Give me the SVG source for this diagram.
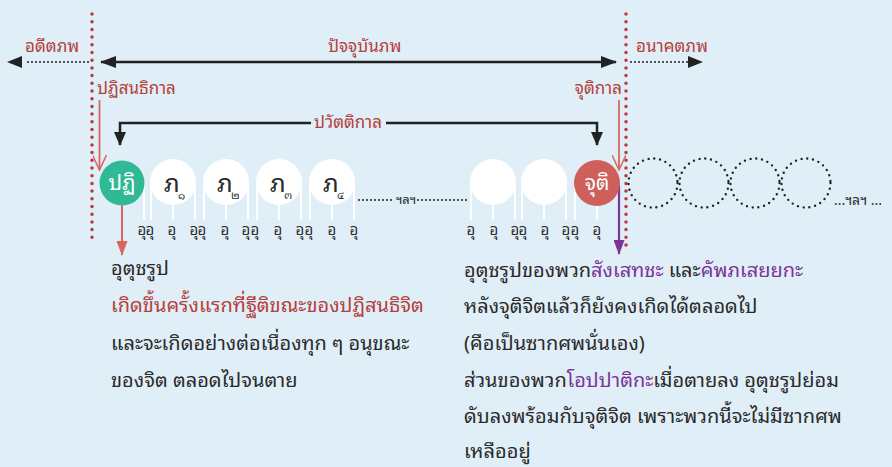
<svg xmlns="http://www.w3.org/2000/svg" width="892" height="467" viewBox="0 0 892 467">
<defs>
<style>
.lbl{font-family:"Noto Sans Thai Looped","Loma","Garuda","Noto Sans Thai","Noto Sans","DejaVu Sans",sans-serif;font-size:17px;fill:#b5413c}
.body{font-family:"Noto Sans Thai Looped","Loma","Garuda","Noto Sans Thai","Noto Sans","DejaVu Sans",sans-serif;font-size:20px;fill:#2b2b2b}
.red{fill:#b5413c}
.pur{fill:#7b3596}
.u{font-family:"Noto Sans Thai Looped","Loma","Garuda","Noto Sans Thai","Noto Sans","DejaVu Sans",sans-serif;font-size:15px;fill:#2b2b2b;text-anchor:middle}
.ctext{font-family:"Noto Sans Thai Looped","Loma","Garuda","Noto Sans Thai","Noto Sans","DejaVu Sans",sans-serif;font-size:21px;fill:#ffffff;text-anchor:middle}
.bha{font-family:"Noto Sans Thai Looped","Loma","Garuda","Noto Sans Thai","Noto Sans","DejaVu Sans",sans-serif;font-size:25px;fill:#2b2b2b}
.num{font-family:"Noto Sans Thai Looped","Loma","Garuda","Noto Sans Thai","Noto Sans","DejaVu Sans",sans-serif;font-size:11px;fill:#2b2b2b}
.vdot{stroke:#b83a3a;stroke-width:3.5;stroke-linecap:round;stroke-dasharray:0 7.7;fill:none}
.bdot{stroke:#222;stroke-width:2;stroke-linecap:round;stroke-dasharray:0 4;fill:none}
.solid{stroke:#222;stroke-width:2.5;fill:none}
.wl{stroke:#ffffff;stroke-width:2}
.dc{fill:none;stroke:#222;stroke-width:2.4;stroke-linecap:round;stroke-dasharray:0 5.8}
.wc{fill:#ffffff}
</style>
<marker id="ah" viewBox="0 0 16 12" refX="15" refY="6" markerWidth="16" markerHeight="12" markerUnits="userSpaceOnUse" orient="auto-start-reverse"><path d="M0,0 L16,6 L0,12 Z" fill="#222"/></marker>
<marker id="ahs" viewBox="0 0 14 12" refX="13" refY="6" markerWidth="14" markerHeight="12" markerUnits="userSpaceOnUse" orient="auto"><path d="M0,0 L14,6 L0,12 Z" fill="#222"/></marker>
<marker id="ahr" viewBox="0 0 15 11" refX="14" refY="5.5" markerWidth="15" markerHeight="11" markerUnits="userSpaceOnUse" orient="auto"><path d="M0,0 L15,5.5 L0,11 Z" fill="#d9665e"/></marker>
<marker id="ahp" viewBox="0 0 15 11" refX="14" refY="5.5" markerWidth="15" markerHeight="11" markerUnits="userSpaceOnUse" orient="auto"><path d="M0,0 L15,5.5 L0,11 Z" fill="#7b3596"/></marker>
<marker id="ahv" viewBox="0 0 16 14" refX="15" refY="7" markerWidth="16" markerHeight="14" markerUnits="userSpaceOnUse" orient="auto"><path d="M0,0 L15,7 L0,14" fill="none" stroke="#d9665e" stroke-width="1.5"/></marker>
</defs>
<rect x="0" y="0" width="892" height="467" fill="#e0eef8"/>

<g id="connectors">
<line class="vdot" x1="92" y1="14" x2="92" y2="240"/>
<line class="vdot" x1="626" y1="14" x2="626" y2="250"/>
<line class="solid" x1="101" y1="62" x2="616" y2="62" marker-start="url(#ah)" marker-end="url(#ah)"/>
<line class="bdot" x1="88" y1="62" x2="24" y2="62"/>
<path d="M22,56 L7,62 L22,68 Z" fill="#222"/>
<line class="bdot" x1="631" y1="62" x2="689" y2="62"/>
<path d="M688,56 L703,62 L688,68 Z" fill="#222"/>
<polyline class="solid" points="311,123 120,123 120,145" marker-end="url(#ahs)"/>
<polyline class="solid" points="386,123 597,123 597,145" marker-end="url(#ahs)"/>
<line x1="99.5" y1="100" x2="99.5" y2="170" stroke="#d9665e" stroke-width="1.8" marker-end="url(#ahv)"/>
<line x1="619" y1="100" x2="619" y2="170" stroke="#d9665e" stroke-width="1.8" marker-end="url(#ahv)"/>
<line x1="122" y1="200" x2="122" y2="255" stroke="#d9665e" stroke-width="2" marker-end="url(#ahr)"/>
<line x1="619" y1="185" x2="619" y2="254" stroke="#7b3596" stroke-width="2.2" marker-end="url(#ahp)"/>
<line class="bdot" x1="359" y1="200" x2="393" y2="200"/>
<line class="bdot" x1="418" y1="200" x2="467" y2="200"/>
</g>

<g id="labels">
<text class="lbl" x="25" y="52">อดีตภพ</text>
<text class="lbl" x="328" y="52">ปัจจุบันภพ</text>
<text class="lbl" x="636" y="52">อนาคตภพ</text>
<text class="lbl" x="97" y="94">ปฏิสนธิกาล</text>
<text class="lbl" x="622" y="94" text-anchor="end">จุติกาล</text>
<text class="lbl" x="348" y="128" text-anchor="middle">ปวัตติกาล</text>
</g>

<g id="lines-white">
<line class="wl" x1="144" y1="182" x2="144" y2="220"/>
<line class="wl" x1="151" y1="182" x2="151" y2="220"/><line class="wl" x1="173" y1="182" x2="173" y2="220"/><line class="wl" x1="195" y1="182" x2="195" y2="220"/>
<line class="wl" x1="204" y1="182" x2="204" y2="220"/><line class="wl" x1="226" y1="182" x2="226" y2="220"/><line class="wl" x1="248" y1="182" x2="248" y2="220"/>
<line class="wl" x1="257" y1="182" x2="257" y2="220"/><line class="wl" x1="279" y1="182" x2="279" y2="220"/><line class="wl" x1="301" y1="182" x2="301" y2="220"/>
<line class="wl" x1="310" y1="182" x2="310" y2="220"/><line class="wl" x1="332" y1="182" x2="332" y2="220"/><line class="wl" x1="354" y1="182" x2="354" y2="220"/>
<line class="wl" x1="471" y1="182" x2="471" y2="220"/><line class="wl" x1="493" y1="182" x2="493" y2="220"/><line class="wl" x1="515" y1="182" x2="515" y2="220"/>
<line class="wl" x1="522" y1="182" x2="522" y2="220"/><line class="wl" x1="544" y1="182" x2="544" y2="220"/><line class="wl" x1="566" y1="182" x2="566" y2="220"/>
<line class="wl" x1="575" y1="182" x2="575" y2="220"/><line class="wl" x1="597" y1="182" x2="597" y2="220"/>
</g>

<g id="node-patisandhi">
<circle cx="122" cy="183" r="22.5" fill="#2fb994"/>
<text class="ctext" x="122" y="190">ปฏิ</text>
</g>
<g id="node-bha1"><circle class="wc" cx="173" cy="182" r="23"/><text class="bha" x="164" y="192">ภ</text><text class="num" x="178" y="199">๑</text></g>
<g id="node-bha2"><circle class="wc" cx="226" cy="182" r="23"/><text class="bha" x="217" y="192">ภ</text><text class="num" x="231" y="199">๒</text></g>
<g id="node-bha3"><circle class="wc" cx="279" cy="182" r="23"/><text class="bha" x="270" y="192">ภ</text><text class="num" x="284" y="199">๓</text></g>
<g id="node-bha4"><circle class="wc" cx="332" cy="182" r="23"/><text class="bha" x="323" y="192">ภ</text><text class="num" x="337" y="199">๔</text></g>
<g id="node-etc"><text class="u" x="406" y="204" style="font-size:13px">ฯลฯ</text></g>
<g id="node-blank1"><circle class="wc" cx="493" cy="182" r="23"/></g>
<g id="node-blank2"><circle class="wc" cx="544" cy="182" r="23"/></g>
<g id="node-cuti">
<circle cx="597" cy="183" r="23" fill="#cf5f5b"/>
<text class="ctext" x="597" y="190">จุติ</text>
</g>
<g id="node-future">
<circle class="dc" cx="653" cy="183" r="24.5"/>
<circle class="dc" cx="704" cy="183" r="24.5"/>
<circle class="dc" cx="755" cy="183" r="24.5"/>
<circle class="dc" cx="806" cy="183" r="24.5"/>
<text class="u" x="834" y="205" style="text-anchor:start;font-size:14px">...ฯลฯ ...</text>
</g>

<g id="u-labels">
<text class="u" x="142" y="235">อุ</text><text class="u" x="150" y="235">อุ</text><text class="u" x="172" y="235">อุ</text>
<text class="u" x="194" y="235">อุ</text><text class="u" x="202" y="235">อุ</text><text class="u" x="225" y="235">อุ</text>
<text class="u" x="246" y="235">อุ</text><text class="u" x="255" y="235">อุ</text><text class="u" x="278" y="235">อุ</text>
<text class="u" x="300" y="235">อุ</text><text class="u" x="309" y="235">อุ</text><text class="u" x="332" y="235">อุ</text>
<text class="u" x="354" y="235">อุ</text>
<text class="u" x="471" y="235">อุ</text><text class="u" x="494" y="235">อุ</text><text class="u" x="515" y="235">อุ</text>
<text class="u" x="523" y="235">อุ</text><text class="u" x="545" y="235">อุ</text><text class="u" x="566" y="235">อุ</text>
<text class="u" x="575" y="235">อุ</text><text class="u" x="597" y="235">อุ</text>
</g>

<g id="text-left">
<text class="body" x="111" y="275">อุตุชรูป</text>
<text class="body red" x="111" y="312">เกิดขึ้นครั้งแรกที่ฐีติขณะของปฏิสนธิจิต</text>
<text class="body" x="111" y="350">และจะเกิดอย่างต่อเนื่องทุก ๆ อนุขณะ</text>
<text class="body" x="111" y="387">ของจิต ตลอดไปจนตาย</text>
</g>

<g id="text-right">
<text class="body" x="464" y="277">อุตุชรูปของพวก<tspan class="pur">สังเสทชะ</tspan> และ<tspan class="pur">คัพภเสยยกะ</tspan></text>
<text class="body" x="464" y="313">หลังจุติจิตแล้วก็ยังคงเกิดได้ตลอดไป</text>
<text class="body" x="464" y="350">(คือเป็นซากศพนั่นเอง)</text>
<text class="body" x="464" y="387">ส่วนของพวก<tspan class="pur">โอปปาติกะ</tspan>เมื่อตายลง อุตุชรูปย่อม</text>
<text class="body" x="464" y="423">ดับลงพร้อมกับจุติจิต เพราะพวกนี้จะไม่มีซากศพ</text>
<text class="body" x="464" y="458">เหลืออยู่</text>
</g>
</svg>
